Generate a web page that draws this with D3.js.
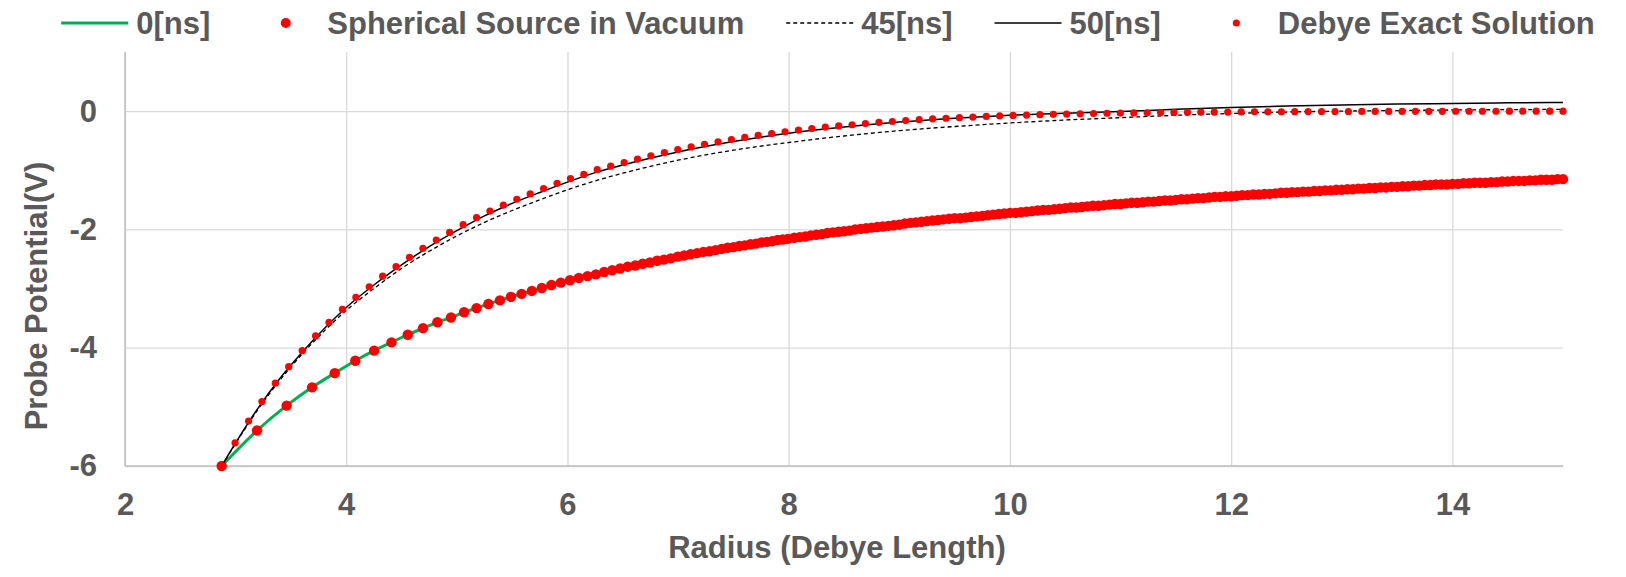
<!DOCTYPE html>
<html>
<head>
<meta charset="utf-8">
<script src="https://cdn.jsdelivr.net/npm/d3@7"></script>
<style>
  body { margin: 0; background: #fff; }
  text { font-family: "Liberation Sans", Arial, sans-serif; font-weight: bold; fill: #595959; }
</style>
</head>
<body>
<svg id="chart"></svg>
<script>
var width = 1626;
var height = 577;
var plot = {left: 125, right: 1563, top: 52, bottom: 466};

// axes
var xTicks = [2, 4, 6, 8, 10, 12, 14];
var yTicks = [-6, -4, -2, 0];

// spherical source in vacuum (also the 0 ns profile)
var vacRadius = [2.874, 3.194, 3.461, 3.691, 3.896, 4.082, 4.252, 4.409, 4.556, 4.694, 4.824, 4.947, 5.065, 5.178,
  5.285, 5.389, 5.489, 5.585, 5.678, 5.768, 5.855, 5.940, 6.023, 6.103, 6.181, 6.257, 6.332, 6.405, 6.476, 6.545,
  6.613, 6.680, 6.746, 6.810, 6.873, 6.935, 6.996, 7.055, 7.114, 7.172, 7.229, 7.285, 7.340, 7.394, 7.448, 7.501,
  7.553, 7.604, 7.655, 7.705, 7.754, 7.803, 7.851, 7.899, 7.946, 7.992,
  8.05, 8.10, 8.15, 8.20, 8.25, 8.30, 8.35, 8.40, 8.45, 8.50, 8.55, 8.60, 8.65, 8.70, 8.75, 8.80, 8.85, 8.90, 8.95,
  9.00, 9.05, 9.10, 9.15, 9.20, 9.25, 9.30, 9.35, 9.40, 9.45, 9.50, 9.55, 9.60, 9.65, 9.70, 9.75, 9.80, 9.85, 9.90, 9.95,
  10.00, 10.05, 10.10, 10.15, 10.20, 10.25, 10.30, 10.35, 10.40, 10.45, 10.50, 10.55, 10.60, 10.65, 10.70, 10.75, 10.80,
  10.85, 10.90, 10.95, 11.00, 11.05, 11.10, 11.15, 11.20, 11.25, 11.30, 11.35, 11.40, 11.45, 11.50, 11.55, 11.60, 11.65,
  11.70, 11.75, 11.80, 11.85, 11.90, 11.95, 12.00, 12.05, 12.10, 12.15, 12.20, 12.25, 12.30, 12.35, 12.40, 12.45, 12.50,
  12.55, 12.60, 12.65, 12.70, 12.75, 12.80, 12.85, 12.90, 12.95, 13.00, 13.05, 13.10, 13.15, 13.20, 13.25, 13.30, 13.35,
  13.40, 13.45, 13.50, 13.55, 13.60, 13.65, 13.70, 13.75, 13.80, 13.85, 13.90, 13.95, 14.00, 14.05, 14.10, 14.15, 14.20,
  14.25, 14.30, 14.35, 14.40, 14.45, 14.50, 14.55, 14.60, 14.65, 14.70, 14.75, 14.80, 14.85, 14.90, 14.95, 15.00];
var vacPotential = [-6.00, -5.40, -4.98, -4.67, -4.43, -4.22, -4.05, -3.91, -3.78, -3.67, -3.57, -3.49, -3.40, -3.33,
  -3.26, -3.20, -3.14, -3.09, -3.04, -2.99, -2.94, -2.90, -2.86, -2.82, -2.79, -2.76, -2.72, -2.69, -2.66, -2.63,
  -2.61, -2.58, -2.56, -2.53, -2.51, -2.49, -2.46, -2.44, -2.42, -2.40, -2.38, -2.37, -2.35, -2.33, -2.31, -2.30,
  -2.28, -2.27, -2.25, -2.24, -2.22, -2.21, -2.20, -2.18, -2.17, -2.16,
  -2.14, -2.13, -2.12, -2.10, -2.09, -2.08, -2.06, -2.05, -2.04, -2.03, -2.02, -2.00, -1.99, -1.98, -1.97, -1.96, -1.95, -1.94, -1.93,
  -1.92, -1.90, -1.89, -1.88, -1.87, -1.86, -1.85, -1.84, -1.83, -1.82, -1.81, -1.81, -1.80, -1.79, -1.78, -1.77, -1.76, -1.75, -1.74, -1.73,
  -1.72, -1.72, -1.71, -1.70, -1.69, -1.68, -1.67, -1.67, -1.66, -1.65, -1.64, -1.63, -1.63, -1.62, -1.61, -1.60, -1.60,
  -1.59, -1.58, -1.57, -1.57, -1.56, -1.55, -1.55, -1.54, -1.53, -1.53, -1.52, -1.51, -1.51, -1.50, -1.49, -1.49, -1.48,
  -1.47, -1.47, -1.46, -1.45, -1.45, -1.44, -1.44, -1.43, -1.42, -1.42, -1.41, -1.41, -1.40, -1.40, -1.39, -1.38, -1.38,
  -1.37, -1.37, -1.36, -1.36, -1.35, -1.35, -1.34, -1.34, -1.33, -1.33, -1.32, -1.32, -1.31, -1.31, -1.30, -1.30, -1.29,
  -1.29, -1.28, -1.28, -1.27, -1.27, -1.26, -1.26, -1.25, -1.25, -1.24, -1.24, -1.24, -1.23, -1.23, -1.22, -1.22, -1.21,
  -1.21, -1.21, -1.20, -1.20, -1.19, -1.19, -1.18, -1.18, -1.18, -1.17, -1.17, -1.16, -1.16, -1.16, -1.15, -1.15];

// simulation at 45 ns
var radius45 = [2.874, 3.0, 3.2, 3.4, 3.6, 3.8, 4.0, 4.25, 4.5, 4.75, 5.0, 5.25, 5.5, 5.75, 6.0, 6.25, 6.5,
  7.0, 7.5, 8.0, 8.5, 9.0, 9.5, 10.0, 10.5, 11.0, 11.5, 12.0, 12.5, 13.0, 13.5, 14.0, 14.5, 15.0];
var potential45 = [-6.00, -5.62, -5.05, -4.55, -4.11, -3.72, -3.37, -3.00, -2.66, -2.37, -2.11, -1.88, -1.68, -1.50, -1.33, -1.18, -1.05,
  -0.83, -0.66, -0.53, -0.42, -0.33, -0.26, -0.20, -0.15, -0.11, -0.07, -0.04, -0.015, 0.0, 0.01, 0.02, 0.025, 0.03];

// simulation at 50 ns
var radius50 = [2.874, 3.0, 3.2, 3.4, 3.6, 3.8, 4.0, 4.25, 4.5, 4.75, 5.0, 5.25, 5.5, 5.75, 6.0, 6.25, 6.5,
  7.0, 7.5, 8.0, 8.5, 9.0, 9.5, 10.0, 10.5, 11.0, 11.5, 12.0, 12.5, 13.0, 13.5, 14.0, 14.5, 15.0];
var potential50 = [-6.00, -5.61, -5.03, -4.52, -4.08, -3.68, -3.32, -2.94, -2.60, -2.29, -2.02, -1.77, -1.56, -1.375, -1.20, -1.04, -0.91,
  -0.69, -0.515, -0.375, -0.27, -0.185, -0.12, -0.07, -0.035, -0.005, 0.03, 0.06, 0.085, 0.105, 0.12, 0.13, 0.14, 0.145];

// Debye exact solution
var debyeRadius = [2.874, 2.995, 3.117, 3.238, 3.359, 3.480, 3.602, 3.723, 3.844, 3.965, 4.087, 4.208, 4.329, 4.450,
  4.572, 4.693, 4.814, 4.935, 5.057, 5.178, 5.299, 5.420, 5.542, 5.663, 5.784, 5.906, 6.027, 6.148, 6.269, 6.391,
  6.512, 6.633, 6.754, 6.876, 6.997, 7.118, 7.239, 7.361, 7.482, 7.603, 7.724, 7.846, 7.967, 8.088, 8.209, 8.331,
  8.452, 8.573, 8.694, 8.816, 8.937, 9.058, 9.180, 9.301, 9.422, 9.543, 9.665, 9.786, 9.907, 10.028, 10.150, 10.271,
  10.392, 10.513, 10.635, 10.756, 10.877, 10.998, 11.120, 11.241, 11.362, 11.483, 11.605, 11.726, 11.847, 11.969,
  12.090, 12.211, 12.332, 12.454, 12.575, 12.696, 12.817, 12.939, 13.060, 13.181, 13.302, 13.424, 13.545, 13.666,
  13.787, 13.909, 14.030, 14.151, 14.272, 14.394, 14.515, 14.636, 14.757, 14.879, 15.000];
var debyePotential = [-6.00, -5.61, -5.24, -4.91, -4.60, -4.32, -4.05, -3.80, -3.57, -3.35, -3.15, -2.97, -2.79, -2.63,
  -2.47, -2.32, -2.18, -2.05, -1.92, -1.80, -1.69, -1.59, -1.49, -1.40, -1.31, -1.22, -1.14, -1.07, -0.99, -0.93,
  -0.87, -0.81, -0.755, -0.70, -0.65, -0.605, -0.56, -0.52, -0.48, -0.445, -0.41, -0.38, -0.35, -0.32, -0.295, -0.27,
  -0.25, -0.23, -0.21, -0.19, -0.175, -0.16, -0.145, -0.13, -0.12, -0.11, -0.10, -0.09, -0.08, -0.073, -0.066, -0.06,
  -0.054, -0.049, -0.044, -0.04, -0.036, -0.033, -0.03, -0.027, -0.024, -0.022, -0.02, -0.018, -0.016, -0.015,
  -0.013, -0.012, -0.011, -0.01, -0.009, -0.008, -0.007, -0.007, -0.006, -0.005, -0.005, -0.004, -0.004, -0.003,
  -0.003, -0.003, -0.002, -0.002, -0.002, -0.002, -0.001, -0.001, -0.001, -0.001, -0.001];

var svg = d3.select("#chart")
  .attr("width", width)
  .attr("height", height);

var x = d3.scaleLinear().domain([2, 15]).range([plot.left, plot.right]);
var y = d3.scaleLinear().domain([-6, 1]).range([plot.bottom, plot.top]);

var fontSize = 31;
var plainNumber = function(d){ return String(d); };

// gridlines + tick labels
var xAxis = svg.append("g")
  .attr("transform", "translate(0," + plot.bottom + ")")
  .call(d3.axisBottom(x).tickValues(xTicks).tickFormat(plainNumber)
    .tickSize(-(plot.bottom - plot.top)).tickPadding(27));
var yAxis = svg.append("g")
  .attr("transform", "translate(" + plot.left + ",0)")
  .call(d3.axisLeft(y).tickValues(yTicks).tickFormat(plainNumber)
    .tickSize(-(plot.right - plot.left)).tickPadding(28));

[xAxis, yAxis].forEach(function(g){
  g.attr("font-size", fontSize).attr("font-family", null);
  g.select(".domain").remove();
  g.selectAll(".tick line").attr("stroke", "#D9D9D9").attr("stroke-width", 1.3);
  g.selectAll(".tick text").style("fill", "#595959");
});

// axis lines
svg.append("line")
  .attr("x1", plot.left).attr("x2", plot.right)
  .attr("y1", y(-6)).attr("y2", y(-6))
  .attr("stroke", "#BFBFBF").attr("stroke-width", 1.5);
svg.append("line")
  .attr("x1", plot.left).attr("x2", plot.left)
  .attr("y1", plot.top).attr("y2", plot.bottom)
  .attr("stroke", "#BFBFBF").attr("stroke-width", 1.5);

var line = d3.line()
  .x(function(d){ return x(d[0]); })
  .y(function(d){ return y(d[1]); })
  .curve(d3.curveMonotoneX);

// 0 ns (green)
svg.append("path")
  .datum(d3.zip(vacRadius, vacPotential))
  .attr("d", line)
  .attr("fill", "none")
  .attr("stroke", "#00B050")
  .attr("stroke-width", 3);

// vacuum solution dots
svg.append("g").selectAll("circle")
  .data(d3.zip(vacRadius, vacPotential))
  .enter()
  .append("circle")
  .attr("cx", function(d){ return x(d[0]); })
  .attr("cy", function(d){ return y(d[1]); })
  .attr("r", 5.2)
  .attr("fill", "#FF0000");

// 45 ns dashed
svg.append("path")
  .datum(d3.zip(radius45, potential45))
  .attr("d", line)
  .attr("fill", "none")
  .attr("stroke", "#000")
  .attr("stroke-width", 1.3)
  .attr("stroke-dasharray", "4,3");

// 50 ns solid
svg.append("path")
  .datum(d3.zip(radius50, potential50))
  .attr("d", line)
  .attr("fill", "none")
  .attr("stroke", "#000")
  .attr("stroke-width", 1.5);

// Debye dots
svg.append("g").selectAll("circle")
  .data(d3.zip(debyeRadius, debyePotential))
  .enter()
  .append("circle")
  .attr("cx", function(d){ return x(d[0]); })
  .attr("cy", function(d){ return y(d[1]); })
  .attr("r", 3.6)
  .attr("fill", "#FF0000");

// axis titles
svg.append("text")
  .attr("x", 837)
  .attr("y", 558)
  .attr("text-anchor", "middle")
  .attr("font-size", fontSize)
  .text("Radius (Debye Length)");

svg.append("text")
  .attr("transform", "translate(47,296) rotate(-90)")
  .attr("text-anchor", "middle")
  .attr("font-size", fontSize)
  .text("Probe Potential(V)");

// legend
var legendItems = [
  {label: "0[ns]", kind: "line", color: "#00B050", w: 3},
  {label: "Spherical Source in Vacuum", kind: "dot", r: 5},
  {label: "45[ns]", kind: "line", color: "#000", w: 1.3, dash: "4,3"},
  {label: "50[ns]", kind: "line", color: "#000", w: 1.5},
  {label: "Debye Exact Solution", kind: "dot", r: 3.6}
];
var symW = 67, symGap = 8, itemGap = 42, legendY = 23;
var legend = svg.append("g");
var items = legend.selectAll("g").data(legendItems).enter().append("g");
items.append("text")
  .attr("font-size", fontSize)
  .attr("y", legendY + 11)
  .text(function(d){ return d.label; });

var cursor = 0;
items.each(function(d){
  var t = d3.select(this).select("text");
  d.x0 = cursor;
  t.attr("x", cursor + symW + symGap);
  cursor += symW + symGap + t.node().getComputedTextLength() + itemGap;
});
var total = cursor - itemGap;
legend.attr("transform", "translate(" + (828 - total / 2) + ",0)");

items.each(function(d){
  var g = d3.select(this);
  if (d.kind === "line") {
    g.append("line")
      .attr("x1", d.x0).attr("x2", d.x0 + symW)
      .attr("y1", legendY).attr("y2", legendY)
      .attr("stroke", d.color)
      .attr("stroke-width", d.w)
      .attr("stroke-dasharray", d.dash || null);
  } else {
    g.append("circle")
      .attr("cx", d.x0 + symW / 2)
      .attr("cy", legendY)
      .attr("r", d.r)
      .attr("fill", "#FF0000");
  }
});
</script>
</body>
</html>
